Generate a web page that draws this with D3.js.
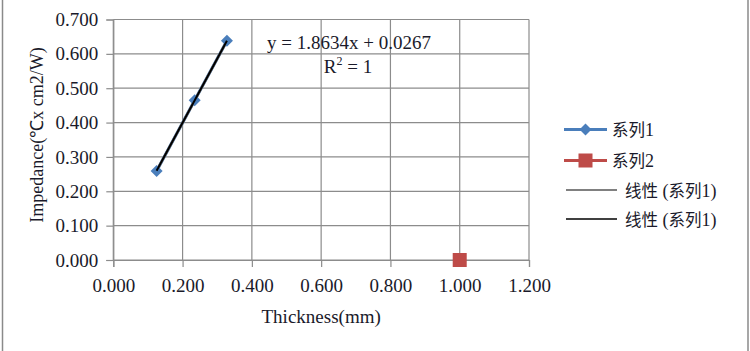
<!DOCTYPE html>
<html>
<head>
<meta charset="utf-8">
<script src="https://cdn.jsdelivr.net/npm/d3@7"></script>
<style>
  body { margin: 0; background: #fff; }
  text, .tick text { font-family: "Liberation Serif", "Times New Roman", serif !important; fill: #1a1a2a; }
  tspan.cjk { font-family: "Noto Sans CJK SC", sans-serif !important; }
</style>
</head>
<body>
<svg id="chart"></svg>
<script>
// series 1 measurements
const thickness1 = [0.125, 0.235, 0.328];
const impedance1 = [0.259, 0.465, 0.638];
// series 2
const thickness2 = [1.0];
const impedance2 = [0.0];
// trendline
const slope = 1.8634, intercept = 0.0267;
const xTicks = [0, 0.2, 0.4, 0.6, 0.8, 1.0, 1.2];
const yTicks = [0, 0.1, 0.2, 0.3, 0.4, 0.5, 0.6, 0.7];
const legendNames = ["系列1", "系列2", "线性 (系列1)", "线性 (系列1)"];

const W = 750, H = 351;
const margin = { top: 19.5, left: 113.3, right: 221, bottom: 91 };
const width = W - margin.left - margin.right;
const height = H - margin.top - margin.bottom;

const svg = d3.select('#chart').attr('width', W).attr('height', H);

// outer chart border
svg.append('rect')
  .attr('x', 2.5).attr('y', -2).attr('width', 745.5).attr('height', H + 4)
  .attr('fill', 'none').attr('stroke', '#8a8a8a').attr('stroke-width', 1.5);

const g = svg.append('g').attr('transform', `translate(${margin.left},${margin.top})`);

const x = d3.scaleLinear().domain([0, 1.2]).range([0, width]);
const y = d3.scaleLinear().domain([0, 0.7]).range([height, 0]);

// gridlines
g.selectAll('.vgrid').data(xTicks).join('line')
  .attr('x1', d => x(d)).attr('x2', d => x(d))
  .attr('y1', 0).attr('y2', height)
  .attr('stroke', '#8c8c8c').attr('stroke-width', 1.2);
g.selectAll('.hgrid').data(yTicks).join('line')
  .attr('x1', 0).attr('x2', width)
  .attr('y1', d => y(d)).attr('y2', d => y(d))
  .attr('stroke', '#8c8c8c').attr('stroke-width', 1.2);

// axes
const xAxis = d3.axisBottom(x).tickValues(xTicks).tickFormat(d3.format('.3f')).tickSize(7).tickPadding(12);
const yAxis = d3.axisLeft(y).tickValues(yTicks).tickFormat(d3.format('.3f')).tickSize(7).tickPadding(8);

const xg = g.append('g').attr('transform', `translate(0,${height})`).call(xAxis);
const yg = g.append('g').call(yAxis);
[xg, yg].forEach(a => {
  a.attr('font-family', null).attr('font-size', 19);
  a.select('.domain').attr('stroke', '#8c8c8c').attr('stroke-width', 1.2);
  a.selectAll('.tick line').attr('stroke', '#8c8c8c').attr('stroke-width', 1.2);
  a.selectAll('.tick text').attr('fill', '#1a1a2a');
});

// axis titles
svg.append('text')
  .attr('x', margin.left + width / 2).attr('y', 323)
  .attr('text-anchor', 'middle').attr('font-size', 19)
  .text('Thickness(mm)');
svg.append('text')
  .attr('transform', `translate(43,135) rotate(-90)`)
  .attr('text-anchor', 'middle').attr('font-size', 18)
  .text('Impedance(℃x cm2/W)');

// series 1 line
const pts1 = thickness1.map((t, i) => ({ x: t, y: impedance1[i] }));
const line = d3.line().x(d => x(d.x)).y(d => y(d.y));
g.append('path').datum(pts1)
  .attr('d', line).attr('fill', 'none')
  .attr('stroke', '#4a7ebb').attr('stroke-width', 3);

// trendline extent = data range of series 1
const xr = d3.extent(thickness1);
const trend = xr.map(v => ({ x: v, y: slope * v + intercept }));
g.append('path').datum(trend).attr('d', line)
  .attr('stroke', '#808080').attr('stroke-width', 2.5).attr('fill', 'none');

// markers
const diamond = d3.symbol().type(d3.symbolSquare).size(72);
g.selectAll('.m1').data(pts1).join('path')
  .attr('d', diamond)
  .attr('transform', d => `translate(${x(d.x)},${y(d.y)}) rotate(45)`)
  .attr('fill', '#4a7ebb');

const pts2 = thickness2.map((t, i) => ({ x: t, y: impedance2[i] }));
g.selectAll('.m2').data(pts2).join('rect')
  .attr('x', d => x(d.x) - 7).attr('y', d => y(d.y) - 7)
  .attr('width', 14).attr('height', 14)
  .attr('fill', '#be4b48');

// black trendline on top of markers
g.append('path').datum(trend).attr('d', line)
  .attr('stroke', '#000').attr('stroke-width', 2).attr('fill', 'none');

// equation
svg.append('text')
  .attr('x', 349).attr('y', 49)
  .attr('text-anchor', 'middle').attr('font-size', 19)
  .text(`y = ${slope}x + ${intercept}`);
const r2 = svg.append('text')
  .attr('x', 348).attr('y', 73)
  .attr('text-anchor', 'middle').attr('font-size', 19);
r2.append('tspan').text('R');
r2.append('tspan').attr('dy', -8).attr('font-size', 12).text('2');
r2.append('tspan').attr('dy', 8).text(' = 1');

// legend
const legY = [129.5, 160.5, 190, 219];
const lg = svg.append('g');
lg.append('line').attr('x1', 564).attr('x2', 607).attr('y1', legY[0]).attr('y2', legY[0])
  .attr('stroke', '#4a7ebb').attr('stroke-width', 3);
lg.append('path').attr('d', diamond).attr('transform', `translate(585.5,${legY[0]}) rotate(45)`)
  .attr('fill', '#4a7ebb');
lg.append('line').attr('x1', 564).attr('x2', 607).attr('y1', legY[1]).attr('y2', legY[1])
  .attr('stroke', '#be4b48').attr('stroke-width', 3);
lg.append('rect').attr('x', 578.5).attr('y', legY[1] - 7).attr('width', 14).attr('height', 14)
  .attr('fill', '#be4b48');
lg.append('line').attr('x1', 566).attr('x2', 617).attr('y1', legY[2]).attr('y2', legY[2])
  .attr('stroke', '#808080').attr('stroke-width', 2);
lg.append('line').attr('x1', 566).attr('x2', 617).attr('y1', legY[3]).attr('y2', legY[3])
  .attr('stroke', '#000').attr('stroke-width', 1.5);

legendNames.forEach((name, i) => {
  const t = lg.append('text')
    .attr('x', i < 2 ? 612 : 625).attr('y', legY[i] + 6.5)
    .attr('font-size', 18);
  // CJK characters in sans, digits/brackets in serif
  const parts = name.match(/[\u4e00-\u9fff]+|[^\u4e00-\u9fff]+/g);
  parts.forEach(p => {
    const sp = t.append('tspan').text(p);
    if (/[\u4e00-\u9fff]/.test(p)) sp.attr('class', 'cjk').attr('font-size', 16.5);
  });
});
</script>
</body>
</html>
